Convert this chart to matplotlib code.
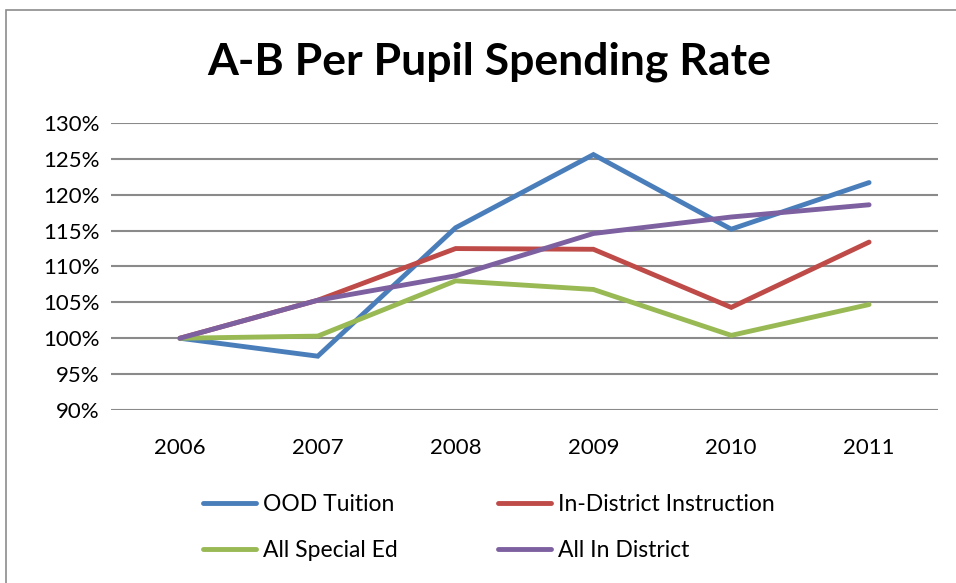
import matplotlib.pyplot as plt
from matplotlib.lines import Line2D
from matplotlib.patches import Rectangle
from matplotlib.ticker import FuncFormatter

plt.rcParams['font.family'] = ['Lato', 'DejaVu Sans']

years = ["2006", "2007", "2008", "2009", "2010", "2011"]
ood_tuition = [100.0, 97.5, 115.4, 125.6, 115.2, 121.7]
in_district_instruction = [100.0, 105.3, 112.5, 112.4, 104.3, 113.4]
all_special_ed = [100.0, 100.3, 108.0, 106.8, 100.4, 104.7]
all_in_district = [100.0, 105.3, 108.7, 114.6, 116.9, 118.6]

series = [
    ("OOD Tuition", ood_tuition, "#4A7EBB"),
    ("In-District Instruction", in_district_instruction, "#BE4B48"),
    ("All Special Ed", all_special_ed, "#98B954"),
    ("All In District", all_in_district, "#7D60A0"),
]

W, H = 956, 583
fig = plt.figure(figsize=(W / 100, H / 100), dpi=100)

# chart frame
fig.patches.append(Rectangle((6 / W, -0.05), 1.2, 1 - 10 / H + 0.05,
                             transform=fig.transFigure, fill=False,
                             edgecolor="#8c8c8c", linewidth=1.2))

ax = fig.add_axes([111 / W, 1 - 410 / H, (938 - 111) / W, (410 - 123) / H])
x = list(range(len(years)))
for name, vals, col in series:
    ax.plot(x, vals, color=col, linewidth=3.5, solid_capstyle="round",
            solid_joinstyle="miter", label=name, zorder=3)

ax.set_xlim(-0.5, len(years) - 0.5)
ax.set_ylim(90, 130)
ax.set_yticks(range(90, 131, 5))
ax.yaxis.set_major_formatter(FuncFormatter(lambda v, p: f"{v:.0f}%"))
ax.set_xticks(x)
ax.set_xticklabels(years)
ax.grid(axis="y", color="#8a8a8a", linewidth=1.5)
ax.set_axisbelow(True)
for s in ax.spines.values():
    s.set_visible(False)
ax.tick_params(axis="both", length=0, labelsize=16, colors="black")
ax.tick_params(axis="y", pad=8)
ax.tick_params(axis="x", pad=20)

fig.text(489 / W, 1 - 62 / H, "A-B Per Pupil Spending Rate", ha="center",
         va="center", fontsize=32, fontweight="bold")

handles = [Line2D([], [], color=c, linewidth=3.5, solid_capstyle="round")
           for _, _, c in series]
labels = [n for n, _, _ in series]
order = [0, 2, 1, 3]
fig.legend([handles[i] for i in order], [labels[i] for i in order],
           ncol=2, frameon=False, fontsize=16.5, loc="upper left",
           bbox_to_anchor=(203 / W, 1 - 494 / H), borderpad=0,
           borderaxespad=0, handlelength=2.3, handletextpad=0.3,
           columnspacing=4.4, labelspacing=1.1)

fig.savefig("out.png", dpi=100)
